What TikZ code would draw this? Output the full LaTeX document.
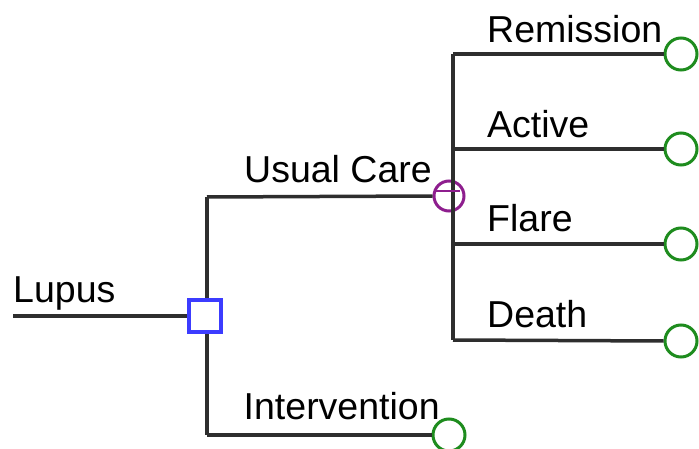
\documentclass[tikz,border=0pt]{standalone}
\usepackage{fontspec}
\setmainfont{Liberation Sans}
\definecolor{linec}{HTML}{2E2E2E}
\definecolor{decc}{HTML}{3C3CFF}
\definecolor{chc}{HTML}{8E1E8E}
\definecolor{termc}{HTML}{1E8C1E}
\begin{document}
\begin{tikzpicture}[x=1pt,y=-1pt,
  conn/.style={draw=linec,line width=3.5pt},
  decbox/.style={draw=decc,fill=white,line width=4pt,minimum size=32pt,inner sep=0pt,rectangle},
  chnode/.style={draw=chc,fill=white,line width=3pt,circle,minimum size=30pt,inner sep=0pt},
  termnode/.style={draw=termc,fill=white,line width=3pt,circle,minimum size=32pt,inner sep=0pt},
  lbl/.style={anchor=base west,inner sep=0pt,font=\fontsize{37.5}{44}\selectfont}]
\useasboundingbox (0,0) rectangle (699,449);
% coordinates
\coordinate (ls) at (13,316);
\coordinate (uc) at (207,197);
\coordinate (iv) at (207,435);
\coordinate (r1) at (453,54);
\coordinate (r2) at (453,149);
\coordinate (r3) at (453,244);
\coordinate (r4) at (453,340);
% nodes
\node[decbox] (d) at (205,316) {};
\node[chnode] (c) at (449,196) {};
\node[termnode] (t1) at (681,54) {};
\node[termnode] (t2) at (681,149) {};
\node[termnode] (t3) at (681,244) {};
\node[termnode] (t4) at (681,341) {};
\node[termnode] (ti) at (449,435) {};
% connectors
\draw[conn] (ls) -- (d.west);
\draw[conn] (uc) -- (iv);
\node[decbox] at (d) {};
\draw[conn] (uc) -- (c.west);
\draw[conn] (iv) -- (ti.west);
\draw[conn] (r1) -- (r4);
\draw[draw=chc,line width=2.5pt] ([yshift=5pt]c.west) ++(3,0) -- ++(24,0);
\draw[conn] (r1) -- (t1.west);
\draw[conn] (r2) -- (t2.west);
\draw[conn] (r3) -- (t3.west);
\draw[conn] (r4) -- (t4.west);
% labels
\node[lbl] (lupus) at (13,302) {Lupus};
\node[lbl] (luc) at (244,183) {Usual Care};
\node[lbl] (lint) at (243.5,419) {Intervention};
\node[lbl] (lrem) at (487,43) {Remission};
\node[lbl] (lact) at (487,138) {Active};
\node[lbl] (lfl) at (487,232) {Flare};
\node[lbl] (lde) at (487,327) {Death};
\end{tikzpicture}
\end{document}
